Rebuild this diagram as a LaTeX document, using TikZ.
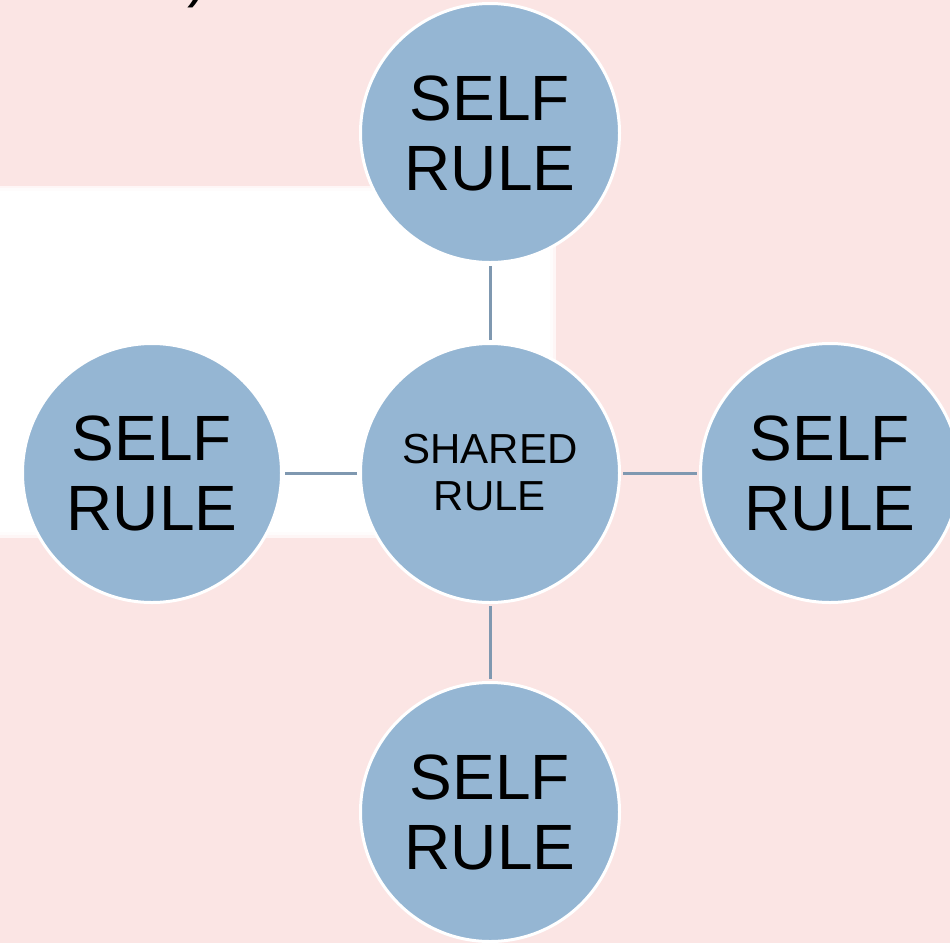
\documentclass[tikz,border=0pt]{standalone}
\usepackage{fontspec}
\setmainfont{Liberation Sans}
\definecolor{bgpink}{HTML}{FBE5E4}
\definecolor{circfill}{HTML}{95B6D3}
\definecolor{linkcol}{HTML}{7F98B0}
\begin{document}
\begin{tikzpicture}[x=1pt,y=-1pt,
  selfnode/.style={circle,fill=circfill,draw=white,line width=3pt,minimum size=259pt,inner sep=0pt,align=center,font=\fontsize{64}{70}\selectfont},
  sharednode/.style={selfnode,font=\fontsize{42}{47}\selectfont},
  link/.style={draw=linkcol,line width=3pt,shorten <=2pt,shorten >=2pt}]
\useasboundingbox (0,0) rectangle (950,943);
\fill[bgpink] (0,0) rectangle (950,943);
% soft white panel
\fill[bgpink!33!white] (0,186) rectangle (556,538);
\fill[bgpink!12!white] (0,188) rectangle (553,535);
\fill[white] (0,191) rectangle (550,532);
% clipped title fragment
\begin{scope}
\clip (0,0) rectangle (950,943);
\node[anchor=base east,inner sep=0pt,font=\fontsize{60}{60}\selectfont] (title) at (208,-5) {federation)};
\end{scope}
\node[sharednode] (c) at (490,473) {SHARED\\RULE};
\node[selfnode] (t) at (490,133) {SELF\\RULE};
\node[selfnode] (b) at (490,812) {SELF\\RULE};
\node[selfnode] (l) at (152,473) {SELF\\RULE};
\node[selfnode] (r) at (830,473) {SELF\\RULE};
\draw[link] (c) -- (t);
\draw[link] (c) -- (b);
\draw[link] (c) -- (l);
\draw[link] (c) -- (r);
\end{tikzpicture}
\end{document}
